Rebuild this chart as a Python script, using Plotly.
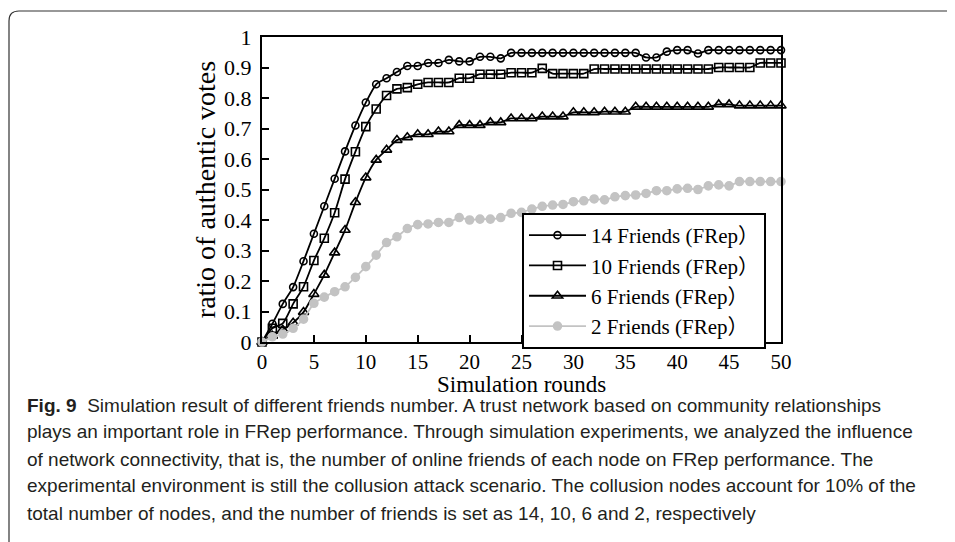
import plotly.graph_objects as go

rounds = list(range(0, 51))

friends14 = [0, 0.06, 0.125, 0.18, 0.265, 0.355, 0.445, 0.535, 0.625, 0.71,
             0.785, 0.845, 0.865, 0.885, 0.905, 0.905, 0.915, 0.915, 0.925, 0.92,
             0.92, 0.935, 0.935, 0.93, 0.948, 0.948, 0.948, 0.948, 0.948, 0.948,
             0.948, 0.948, 0.948, 0.948, 0.948, 0.948, 0.948, 0.933, 0.933, 0.952,
             0.957, 0.957, 0.946, 0.957, 0.957, 0.957, 0.957, 0.957, 0.957, 0.957,
             0.957]
friends10 = [0, 0.045, 0.061, 0.125, 0.181, 0.267, 0.34, 0.424, 0.534, 0.624,
             0.706, 0.764, 0.808, 0.83, 0.834, 0.845, 0.851, 0.851, 0.851, 0.865,
             0.865, 0.878, 0.878, 0.878, 0.883, 0.883, 0.883, 0.897, 0.88, 0.88,
             0.88, 0.88, 0.895, 0.895, 0.895, 0.895, 0.895, 0.895, 0.895, 0.895,
             0.895, 0.895, 0.895, 0.895, 0.9, 0.9, 0.9, 0.9, 0.915, 0.915,
             0.915]
friends6 = [0, 0.02, 0.04, 0.063, 0.098, 0.157, 0.22, 0.293, 0.367, 0.458,
            0.539, 0.597, 0.63, 0.662, 0.671, 0.681, 0.681, 0.69, 0.69, 0.711,
            0.711, 0.711, 0.72, 0.72, 0.733, 0.733, 0.733, 0.739, 0.739, 0.739,
            0.753, 0.753, 0.753, 0.755, 0.755, 0.755, 0.771, 0.771, 0.771, 0.771,
            0.771, 0.771, 0.771, 0.771, 0.779, 0.779, 0.775, 0.775, 0.775, 0.775,
            0.775]
friends2 = [0, 0.017, 0.026, 0.045, 0.075, 0.127, 0.147, 0.165, 0.181, 0.212,
            0.247, 0.285, 0.326, 0.345, 0.372, 0.385, 0.387, 0.392, 0.392, 0.408,
            0.4, 0.403, 0.403, 0.408, 0.422, 0.425, 0.436, 0.445, 0.449, 0.451,
            0.46, 0.463, 0.469, 0.466, 0.476, 0.48, 0.482, 0.487, 0.496, 0.496,
            0.502, 0.504, 0.5, 0.512, 0.515, 0.512, 0.526, 0.526, 0.526, 0.526,
            0.526]

series_names = ["14 Friends (FRep\uff09", "10 Friends (FRep\uff09",
                "6 Friends (FRep\uff09", "2 Friends (FRep\uff09"]
x_ticks = [0, 5, 10, 15, 20, 25, 30, 35, 40, 45, 50]
y_ticks = [0, 0.1, 0.2, 0.3, 0.4, 0.5, 0.6, 0.7, 0.8, 0.9, 1]
x_title = "Simulation rounds"
y_title = "ratio of authentic votes"

caption_lines = [
    "<b>Fig. 9</b>  Simulation result of different friends number. A trust network based on community relationships",
    "plays an important role in FRep performance. Through simulation experiments, we analyzed the influence",
    "of network connectivity, that is, the number of online friends of each node on FRep performance. The",
    "experimental environment is still the collusion attack scenario. The collusion nodes account for 10% of the",
    "total number of nodes, and the number of friends is set as 14, 10, 6 and 2, respectively",
]

SERIF = "Liberation Serif, Times New Roman, Noto Sans CJK SC, serif"
SANS = "Liberation Sans, Arial, sans-serif"

# page body has an 8px default margin; work in reference-window pixels
OFF = 8
WIN_W, WIN_H = 955, 542
W, H = WIN_W - OFF, WIN_H - OFF
L, R, T, B = 262, 781, 37, 342  # plot area in window pixels


def px(xp):
    return (xp - L) / (R - L)


def py(yp):
    return (B - yp) / (B - T)


fig = go.Figure()
styles = [
    dict(symbol="circle-open", size=7, color="black"),
    dict(symbol="square-open", size=8, color="black"),
    dict(symbol="triangle-up-open", size=9, color="black"),
    dict(symbol="circle", size=8, color="#c3c3c3"),
]
for name, ys, st in zip(series_names, [friends14, friends10, friends6, friends2], styles):
    fig.add_trace(go.Scatter(
        x=rounds, y=ys, name=name, mode="lines+markers",
        line=dict(color=st["color"], width=1.8, shape="spline", smoothing=0.6),
        marker=dict(symbol=st["symbol"], size=st["size"], color=st["color"],
                    line=dict(color=st["color"], width=1.6)),
        cliponaxis=False,
    ))

fig.update_layout(
    width=W, height=H,
    margin=dict(l=L - OFF, r=WIN_W - R, t=T - OFF, b=WIN_H - B),
    paper_bgcolor="white", plot_bgcolor="white",
    font=dict(family=SERIF, color="black", size=20),
    showlegend=True,
    legend=dict(x=px(522), y=py(213), xanchor="left", yanchor="top",
                bordercolor="black", borderwidth=2, bgcolor="white",
                font=dict(family=SERIF, size=21, color="black"),
                itemwidth=57, tracegroupgap=0),
    xaxis=dict(range=[0, 50], tickvals=x_ticks, ticks="inside", ticklen=7,
               tickwidth=1.5, tickcolor="black", showline=True, linecolor="black",
               linewidth=2, mirror=True, showgrid=False, zeroline=False,
               tickfont=dict(family=SERIF, size=21)),
    yaxis=dict(range=[0, 1], tickvals=y_ticks, ticks="inside", ticklen=7,
               tickwidth=1.5, tickcolor="black", showline=True, linecolor="black",
               linewidth=2, mirror=True, showgrid=False, zeroline=False,
               ticklabelstandoff=4,
               tickfont=dict(family=SERIF, size=22),
               title=dict(text=y_title, font=dict(family=SERIF, size=28),
                          standoff=0)),
)

# x-axis title placed explicitly so it sits right above the caption
fig.add_annotation(text=x_title, xref="paper", yref="paper", x=px(521), y=py(384.5),
                   xanchor="center", yanchor="middle", showarrow=False,
                   font=dict(family=SERIF, size=23, color="black"))

# outer figure frame with rounded top-left corner
r = 10
x0, y0 = 9, 11
path = (f"M {px(x0)},{py(WIN_H + 5)} L {px(x0)},{py(y0 + r)} "
        f"Q {px(x0)},{py(y0)} {px(x0 + r)},{py(y0)} L {px(WIN_W + 5)},{py(y0)}")
fig.add_shape(type="path", path=path, xref="paper", yref="paper",
              line=dict(color="#333333", width=1.2))

caption_y = [405, 432, 459, 486, 513]
for line, yy in zip(caption_lines, caption_y):
    fig.add_annotation(text=line, xref="paper", yref="paper", x=px(25), y=py(yy),
                       xanchor="left", yanchor="middle", showarrow=False,
                       font=dict(family=SANS, size=19, color="#231f20"))

fig.write_html("out.html")
